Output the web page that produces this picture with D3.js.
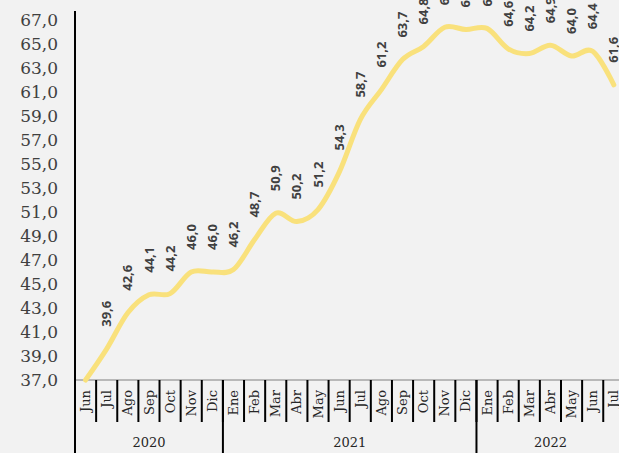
<!DOCTYPE html>
<html>
<head>
<meta charset="utf-8">
<script src="https://cdn.jsdelivr.net/npm/d3@7"></script>
<style>
  html, body { margin: 0; padding: 0; background: #f2f2f2; }
  svg { display: block; }
</style>
</head>
<body>
<script>
var width = 619;
var height = 453;

var months = ["Jun", "Jul", "Ago", "Sep", "Oct", "Nov", "Dic",
  "Ene", "Feb", "Mar", "Abr", "May", "Jun", "Jul", "Ago", "Sep", "Oct", "Nov", "Dic",
  "Ene", "Feb", "Mar", "Abr", "May", "Jun", "Jul"];
var years = ["2020", "2021", "2022"];
var year_months = [7, 12, 7];
var values = [37.0, 39.6, 42.6, 44.1, 44.2, 46.0, 46.0,
  46.2, 48.7, 50.9, 50.2, 51.2, 54.3, 58.7, 61.2, 63.7, 64.8, 66.4, 66.2,
  66.3, 64.6, 64.2, 64.9, 64.0, 64.4, 61.6];
var y_ticks = [37, 39, 41, 43, 45, 47, 49, 51, 53, 55, 57, 59, 61, 63, 65, 67];

var fmt = function(v) { return d3.format(".1f")(v).replace(".", ","); };

var svg = d3.select("body").append("svg")
    .attr("width", width)
    .attr("height", height);

svg.append("rect")
    .attr("width", width)
    .attr("height", height)
    .attr("fill", "#f2f2f2");

var col_w = 21.13;
var x0 = 75;
var x = d3.scaleBand()
    .domain(d3.range(months.length))
    .range([x0, x0 + months.length * col_w]);

var y = d3.scaleLinear()
    .domain([37, 67])
    .range([380, 20]);

// y axis labels
var y_axis = svg.append("g")
    .attr("transform", "translate(58,0)")
    .call(d3.axisLeft(y).tickValues(y_ticks).tickSize(0).tickPadding(0).tickFormat(fmt));
y_axis.select(".domain").remove();
y_axis.selectAll("text")
    .attr("font-family", "DejaVu Serif")
    .attr("font-size", 17)
    .attr("fill", "#404040");

// horizontal axis line
svg.append("line")
    .attr("x1", x0).attr("x2", width)
    .attr("y1", y(37)).attr("y2", y(37))
    .attr("stroke", "#7f7f7f")
    .attr("stroke-width", 1);

// month dividers
svg.append("g").selectAll("line")
    .data(d3.range(1, months.length))
    .enter().append("line")
    .attr("x1", function(d) { return x(d); })
    .attr("x2", function(d) { return x(d); })
    .attr("y1", 380)
    .attr("y2", 422)
    .attr("stroke", "#000")
    .attr("stroke-width", 2);

// year dividers
var cum = d3.cumsum(year_months);
svg.append("g").selectAll("line")
    .data(cum.slice(0, -1))
    .enter().append("line")
    .attr("x1", function(d) { return x(d); })
    .attr("x2", function(d) { return x(d); })
    .attr("y1", 380)
    .attr("y2", height)
    .attr("stroke", "#000")
    .attr("stroke-width", 2);

// month labels
svg.append("g").selectAll("text")
    .data(months)
    .enter().append("text")
    .attr("transform", function(d, i) {
      return "translate(" + (x(i) + x.bandwidth() / 2) + ",390) rotate(-90)";
    })
    .attr("text-anchor", "end")
    .attr("dy", "0.35em")
    .attr("font-family", "DejaVu Serif")
    .attr("font-size", 13)
    .attr("fill", "#262626")
    .text(function(d) { return d; });

// year labels
svg.append("g").selectAll("text")
    .data(years)
    .enter().append("text")
    .attr("x", function(d, i) {
      var start = i === 0 ? 0 : cum[i - 1];
      return x0 + (start + year_months[i] / 2) * col_w;
    })
    .attr("y", 447)
    .attr("text-anchor", "middle")
    .attr("font-family", "DejaVu Serif")
    .attr("font-size", 13)
    .attr("fill", "#262626")
    .text(function(d) { return d; });

// y axis line
svg.append("line")
    .attr("x1", x0).attr("x2", x0)
    .attr("y1", 11).attr("y2", height)
    .attr("stroke", "#000")
    .attr("stroke-width", 2);

// line
var line = d3.line()
    .x(function(d, i) { return x(i) + x.bandwidth() / 2; })
    .y(function(d) { return y(d); })
    .curve(d3.curveCatmullRom.alpha(0));

svg.append("path")
    .datum(values)
    .attr("d", line)
    .attr("fill", "none")
    .attr("stroke", "#f9e17c")
    .attr("stroke-width", 5)
    .attr("stroke-linecap", "round");

// data labels (first point has none)
svg.append("g").selectAll("text")
    .data(values.slice(1))
    .enter().append("text")
    .attr("transform", function(d, i) {
      return "translate(" + (x(i + 1) + x.bandwidth() / 2) + "," + (y(d) - 22) + ") rotate(-90)";
    })
    .attr("text-anchor", "start")
    .attr("dy", "0.35em")
    .attr("font-family", "Open Sans")
    .attr("font-weight", "bold")
    .attr("font-size", 13)
    .attr("fill", "#404040")
    .text(function(d) { return fmt(d); });
</script>
</body>
</html>
